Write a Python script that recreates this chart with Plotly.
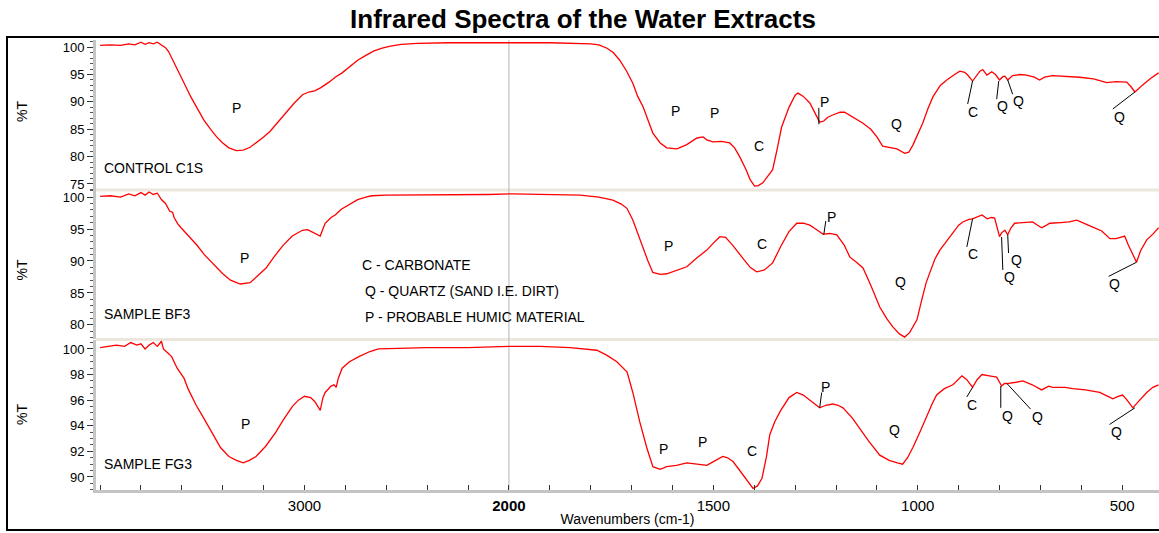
import plotly.graph_objects as go

# ---------------- DATA ----------------
wn_c1s = [4000, 3950, 3900, 3860, 3830, 3800, 3780, 3760, 3740, 3720, 3700, 3680, 3665, 3650, 3635, 3620,
          3590, 3556, 3520, 3493, 3460, 3430, 3400, 3370, 3333, 3300, 3266, 3230, 3200, 3169, 3130, 3092,
          3050, 3010, 2980, 2950, 2920, 2880, 2850, 2816, 2780, 2740, 2700, 2660, 2620, 2580, 2527, 2450,
          2300, 2200, 2100, 2000, 1900, 1800, 1780, 1760, 1745, 1729, 1712, 1697, 1685, 1672, 1660, 1648,
          1630, 1614, 1589, 1565, 1540, 1525, 1515, 1501, 1480, 1460, 1448, 1435, 1420, 1410, 1399, 1390,
          1379, 1365, 1355, 1345, 1333, 1315, 1300, 1293, 1280, 1264, 1250, 1240, 1230, 1220, 1208, 1190,
          1179, 1160, 1134, 1115, 1100, 1086, 1070, 1051, 1032, 1022, 1012, 1000, 988, 975, 963, 945,
          929, 910, 897, 885, 878, 866, 855, 848, 841, 831, 819, 810, 800, 792, 787, 780, 768, 750, 734,
          715, 702, 690, 670, 640, 604, 570, 538, 515, 489, 479, 469, 460, 450, 430, 411]
t_c1s = [100.3, 100.4, 100.3, 100.6, 100.4, 100.9, 100.5, 100.8, 100.6, 100.9, 100.4, 99.9, 99.2, 98.0, 97.0, 95.6,
         93.5, 90.9, 88.5, 86.7, 85.0, 83.6, 82.5, 81.6, 81.1, 81.2, 81.7, 82.7, 83.6, 84.6, 86.3, 88.0,
         89.8, 91.3, 91.8, 92.0, 92.6, 93.6, 94.5, 95.3, 96.4, 97.6, 98.5, 99.3, 99.8, 100.2, 100.5, 100.7,
         100.8, 100.8, 100.8, 100.8, 100.8, 100.6, 100.4, 99.8, 99.0, 97.6, 95.6, 93.4, 91.0, 89.1, 86.6, 84.3,
         82.5, 81.6, 81.4, 82.2, 83.4, 83.6, 83.0, 82.7, 82.8, 82.5, 81.6, 79.9, 77.6, 75.8, 74.6, 74.7,
         75.2, 76.5, 77.6, 81.0, 85.4, 89.0, 91.2, 91.6, 91.0, 89.8, 87.8, 86.3, 86.5, 87.2, 87.6, 88.1,
         88.1, 87.3, 86.1, 85.0, 83.6, 81.9, 81.7, 81.4, 80.6, 80.8, 82.1, 84.0, 86.1, 88.8, 90.9, 93.0,
         94.0, 95.0, 95.6, 95.4, 94.9, 93.8, 95.0, 95.6, 95.9, 94.9, 95.5, 95.0, 94.0, 94.6, 94.7, 94.0, 94.8, 95.0, 94.9,
         94.5, 94.0, 94.5, 94.8, 94.7, 94.5, 94.2, 93.5, 93.7, 93.6, 92.8, 91.8, 92.4, 93.1, 94.3, 95.3]

wn_bf3 = [4000, 3950, 3900, 3860, 3830, 3800, 3780, 3760, 3740, 3720, 3700, 3680, 3660, 3645, 3638, 3620,
          3604, 3570, 3527, 3490, 3444, 3400, 3362, 3314, 3266, 3230, 3188, 3150, 3106, 3060, 3010, 2985,
          2960, 2935, 2923, 2910, 2899, 2870, 2850, 2820, 2783, 2740, 2700, 2671, 2600, 2464, 2300, 2200,
          2100, 1990, 1900, 1826, 1780, 1746, 1725, 1711, 1697, 1685, 1672, 1660, 1648, 1630, 1614, 1590,
          1565, 1540, 1516, 1500, 1484, 1470, 1452, 1430, 1410, 1394, 1375, 1355, 1335, 1315, 1296, 1280,
          1264, 1250, 1232, 1215, 1198, 1180, 1166, 1150, 1134, 1115, 1093, 1075, 1061, 1045, 1032, 1020,
          1010, 1002, 990, 980, 971, 958, 946, 920, 900, 890, 875, 866, 855, 843, 830, 820, 812, 805,
          800, 795, 787, 780, 772, 763, 740, 719, 707, 697, 685, 677, 650, 630, 611, 595, 572, 550,
          530, 515, 500, 494, 485, 475, 465, 455, 440, 425, 411]
t_bf3 = [100.1, 100.2, 100.0, 100.5, 100.2, 100.7, 100.3, 100.8, 100.4, 100.6, 99.6, 99.0, 97.8, 97.6, 96.8, 95.8,
         95.2, 94.0, 92.5, 91.0, 89.4, 88.0, 87.0, 86.4, 86.6, 87.6, 88.9, 90.6, 92.4, 93.9, 94.8, 94.9,
         94.5, 94.2, 93.9, 95.0, 95.9, 96.8, 97.2, 98.1, 98.8, 99.6, 100.0, 100.2, 100.3, 100.3, 100.3, 100.3,
         100.4, 100.5, 100.4, 100.3, 100.0, 99.5, 98.9, 98.2, 96.4, 94.3, 92.2, 90.0, 88.2, 87.9, 88.0, 88.5,
         89.1, 90.5, 91.7, 92.8, 93.8, 93.7, 92.4, 90.6, 89.0, 88.3, 88.6, 89.7, 92.3, 94.6, 95.9, 95.9,
         95.6, 95.0, 94.2, 94.3, 94.1, 92.5, 90.6, 89.8, 88.9, 86.2, 82.8, 80.9, 79.7, 78.6, 78.1, 78.8,
         79.8, 80.8, 84.0, 86.5, 88.1, 90.3, 91.7, 94.0, 95.6, 96.1, 96.5, 96.6, 96.9, 97.2, 96.6, 96.8, 96.7, 95.2,
         93.8, 94.4, 94.8, 94.1, 95.2, 95.9, 96.0, 96.1, 95.6, 95.2, 95.6, 95.9, 96.0, 96.1, 96.4, 95.9, 95.3, 94.7,
         93.5, 93.5, 93.8, 93.9, 92.5, 91.2, 89.8, 91.6, 93.3, 94.2, 95.2]

wn_fg3 = [4000, 3960, 3920, 3880, 3850, 3820, 3800, 3780, 3760, 3740, 3720, 3700, 3690, 3670, 3650, 3623,
          3600, 3589, 3570, 3556, 3530, 3493, 3450, 3411, 3370, 3333, 3300, 3270, 3237, 3190, 3140, 3106,
          3060, 3030, 3000, 2970, 2950, 2935, 2923, 2910, 2899, 2870, 2855, 2845, 2835, 2816, 2780, 2734,
          2680, 2638, 2400, 2200, 2000, 1924, 1850, 1785, 1760, 1736, 1711, 1697, 1680, 1663, 1648, 1630,
          1614, 1590, 1565, 1540, 1516, 1500, 1484, 1477, 1465, 1452, 1440, 1428, 1415, 1403, 1392, 1381,
          1370, 1362, 1350, 1337, 1315, 1296, 1280, 1264, 1250, 1240, 1225, 1208, 1195, 1183, 1160, 1142,
          1120, 1093, 1070, 1050, 1037, 1025, 1012, 995, 978, 965, 954, 935, 914, 892, 880, 873, 866, 855,
          843, 825, 807, 800, 795, 788, 782, 760, 743, 720, 697, 680, 670, 640, 621, 590, 555, 535, 523,
          510, 499, 488, 474, 460, 440, 425, 411]
t_fg3 = [100.1, 100.2, 100.3, 100.2, 100.5, 100.3, 100.4, 100.0, 100.3, 100.5, 100.2, 100.6, 100.0, 99.7, 99.4, 98.5,
         97.9, 97.7, 96.9, 96.4, 95.6, 94.6, 93.4, 92.3, 91.6, 91.3, 91.1, 91.3, 91.6, 92.4, 93.5, 94.4,
         95.5, 96.0, 96.3, 96.2, 95.9, 95.5, 95.2, 96.2, 96.6, 97.1, 97.2, 97.0, 97.7, 98.5, 99.0, 99.4,
         99.8, 100.0, 100.1, 100.1, 100.2, 100.2, 100.1, 99.9, 99.5, 99.0, 98.2, 96.6, 94.3, 92.3, 90.8, 90.6,
         90.8, 90.9, 91.1, 91.0, 90.9, 91.2, 91.5, 91.6, 91.5, 91.2, 90.7, 90.2, 89.6, 89.1, 89.3, 89.9,
         91.6, 93.3, 94.3, 95.1, 96.2, 96.6, 96.4, 96.0, 95.6, 95.4, 95.6, 95.7, 95.6, 95.4, 94.6, 93.8,
         92.8, 91.7, 91.3, 91.1, 91.0, 91.5, 92.3, 93.5, 94.8, 95.7, 96.4, 96.9, 97.2, 97.9, 97.6, 97.3, 97.0, 97.6,
         98.0, 97.9, 97.8, 97.4, 97.1, 97.3, 97.3, 97.4, 97.5, 97.2, 96.8, 97.1, 97.0, 97.0, 96.9, 96.8, 96.6, 96.3, 96.1,
         96.3, 96.4, 96.0, 95.4, 95.9, 96.6, 97.0, 97.2]

panel_names = ["CONTROL C1S", "SAMPLE BF3", "SAMPLE FG3"]
x_tick_wn = [3000, 2000, 1500, 1000, 500]
key_lines = ["C - CARBONATE", "Q - QUARTZ (SAND I.E. DIRT)", "P - PROBABLE HUMIC MATERIAL"]

# peak labels: (text, wavenumber, %T)
labels_top = [("P", 3333, 88.9), ("P", 1592, 88.3), ("P", 1496, 88.0), ("C", 1389, 81.9), ("P", 1227, 90.0),
              ("Q", 1051, 85.9), ("C", 866, 88.1), ("Q", 792, 89.2), ("Q", 753, 90.1), ("Q", 506, 87.2)]
labels_mid = [("P", 3295, 90.5), ("P", 1609, 92.3), ("C", 1381, 92.7), ("P", 1210, 96.9), ("Q", 1042, 86.7),
              ("C", 866, 91.1), ("Q", 775, 87.5), ("Q", 758, 90.2), ("Q", 518, 86.4)]
labels_bot = [("P", 3290, 94.1), ("P", 1621, 92.2), ("P", 1526, 92.7), ("C", 1406, 92.0), ("P", 1225, 97.0),
              ("Q", 1056, 93.7), ("C", 868, 95.6), ("Q", 780, 94.8), ("Q", 707, 94.7), ("Q", 513, 93.5)]
# leader lines: (w0, T0, w1, T1)
leaders_top = [(1242, 88.9, 1242, 85.9), (866, 93.8, 878, 89.6), (802, 93.8, 807, 90.5),
               (780, 94.0, 768, 91.4), (469, 91.8, 523, 88.7)]
leaders_mid = [(1225, 96.25, 1230, 94.1), (866, 96.6, 880, 92.2), (795, 93.75, 792, 88.6),
               (780, 94.1, 778, 91.25), (465, 89.8, 533, 87.6)]
leaders_bot = [(1235, 96.6, 1240, 95.4), (866, 97.0, 880, 96.25), (797, 97.1, 797, 95.4),
               (782, 97.3, 724, 95.3), (469, 95.4, 531, 94.1)]


def to_u(w):
    # IR convention: 2x expansion below 2000 cm-1
    return 2000 - w if w <= 2000 else -(w - 2000) * 0.5


FONT = "Liberation Sans, Arial, sans-serif"
RED = "#ff0000"

fig = go.Figure()
for wn, t, ax in [(wn_c1s, t_c1s, "y"), (wn_bf3, t_bf3, "y2"), (wn_fg3, t_fg3, "y3")]:
    fig.add_trace(go.Scatter(x=[to_u(w) for w in wn], y=t, mode="lines", yaxis=ax, xaxis="x",
                             line=dict(color=RED, width=1.3), hoverinfo="skip", showlegend=False))

# x ticks: every 100 units in transformed space
tickvals = list(range(-1000, 1600, 100))
label_u = {to_u(w): str(w) for w in x_tick_wn}
ticktext = []
for v in tickvals:
    if v in label_u:
        ticktext.append("<b>2000</b>" if label_u[v] == "2000" else label_u[v])
    else:
        ticktext.append("")

H_TOP, H_BOT = 40, 43
PLOT_H = 533 - H_TOP - H_BOT  # 450


def dom(ytop, ybot):
    return [(490 - ybot) / PLOT_H, (490 - ytop) / PLOT_H]


d_top = dom(40, 190)
d_mid = dom(190, 339)
d_bot = dom(340, 490)

yax_common = dict(showline=True, linecolor="#c4c4c4", linewidth=3, ticks="outside", ticklen=6,
                  tickcolor="#333333", tickwidth=1, showgrid=False, zeroline=False,
                  tickfont=dict(family=FONT, size=13, color="#000"), fixedrange=True)

fig.update_layout(
    width=1159, height=533,
    margin=dict(l=96, r=0, t=H_TOP, b=H_BOT, autoexpand=False),
    paper_bgcolor="white", plot_bgcolor="white",
    title=dict(text="<b>Infrared Spectra of the Water Extracts</b>", x=0.503, xanchor="center",
               y=1 - 19 / 533, yanchor="middle", yref="container",
               font=dict(family=FONT, size=26, color="#000")),
    xaxis=dict(range=[-1010, 1590], anchor="y3", showline=True, linecolor="#c4c4c4", linewidth=3,
               tickmode="array", tickvals=tickvals, ticktext=ticktext, ticks="inside", ticklen=5,
               tickcolor="#333333", showgrid=False, zeroline=False, automargin=False,
               tickfont=dict(family=FONT, size=15, color="#000"),
               title=dict(text="Wavenumbers (cm-1)", font=dict(family=FONT, size=14, color="#000"), standoff=2)),
    yaxis=dict(domain=d_top, range=[73.9, 101.3], tickvals=[75, 80, 85, 90, 95, 100],
               minor=dict(dtick=1, ticks="outside", ticklen=3, tickcolor="#555555"), **yax_common),
    yaxis2=dict(domain=d_mid, range=[77.8, 101.1], tickvals=[80, 85, 90, 95, 100],
                minor=dict(dtick=1, ticks="outside", ticklen=3, tickcolor="#555555"), **yax_common),
    yaxis3=dict(domain=d_bot, range=[88.98, 100.7], tickvals=[90, 92, 94, 96, 98, 100],
                minor=dict(dtick=0.5, ticks="outside", ticklen=3, tickcolor="#555555"), **yax_common),
)

shapes = []
# separators between panels
for yp in [d_top[0], (490 - 339.5) / PLOT_H]:
    shapes.append(dict(type="line", xref="paper", yref="paper", x0=0, x1=1, y0=yp, y1=yp,
                       line=dict(color="#ebe7dc", width=3), layer="below"))
# vertical line at 2000
shapes.append(dict(type="line", xref="x", yref="paper", x0=to_u(2000), x1=to_u(2000), y0=0, y1=1,
                   line=dict(color="#b4b4b4", width=1), layer="below"))
# outer frame
shapes.append(dict(type="rect", xref="paper", yref="paper", x0=(7 - 96) / 1063, x1=1.004,
                   y0=(490 - 530) / PLOT_H, y1=(490 - 37) / PLOT_H, line=dict(color="#000", width=2)))
# leader lines
for leads, ya in [(leaders_top, "y"), (leaders_mid, "y2"), (leaders_bot, "y3")]:
    for w0, t0, w1, t1 in leads:
        shapes.append(dict(type="line", xref="x", yref=ya, x0=to_u(w0), x1=to_u(w1), y0=t0, y1=t1,
                           line=dict(color="#000", width=1)))

annotations = []
for labs, ya in [(labels_top, "y"), (labels_mid, "y2"), (labels_bot, "y3")]:
    for txt, w, t in labs:
        annotations.append(dict(text=txt, x=to_u(w), y=t, xref="x", yref=ya, showarrow=False,
                                font=dict(family=FONT, size=14, color="#000")))

# panel names
for name, ya, yy in [(panel_names[0], "y domain", 0.147), (panel_names[1], "y2 domain", 0.168),
                     (panel_names[2], "y3 domain", 0.173)]:
    annotations.append(dict(text=name, x=0.006, y=yy, xref="x domain", yref=ya, xanchor="left",
                            yanchor="middle", showarrow=False, font=dict(family=FONT, size=14, color="#000")))

# %T labels
for ya, yy in [("y domain", 0.52), ("y2 domain", 0.46), ("y3 domain", 0.5)]:
    annotations.append(dict(text="%T", x=(22 - 96) / 1063, y=yy, xref="paper", yref=ya, textangle=-90,
                            xanchor="center", yanchor="middle", showarrow=False,
                            font=dict(family=FONT, size=14, color="#000")))

# key text
for txt, xx, yy in [(key_lines[0], 0.248, 0.497), (key_lines[1], 0.251, 0.322), (key_lines[2], 0.251, 0.148)]:
    annotations.append(dict(text=txt, x=xx, y=yy, xref="x domain", yref="y2 domain", xanchor="left",
                            yanchor="middle", showarrow=False, font=dict(family=FONT, size=14, color="#000")))

fig.update_layout(shapes=shapes, annotations=annotations)
fig.write_html("out.html", config={"displayModeBar": False},
               post_script="document.body.style.margin='0';document.body.style.overflow='hidden';")
